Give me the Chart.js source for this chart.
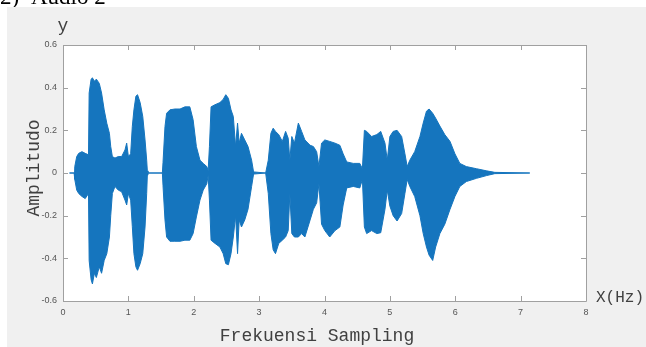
<!DOCTYPE html>
<html>
<head>
<meta charset="utf-8">
<title>Audio 2</title>
<script src="https://cdn.jsdelivr.net/npm/chart.js@4.4.0/dist/chart.umd.min.js"></script>
<style>
    html, body { margin: 0; padding: 0; background: #ffffff; }
    canvas { display: block; }
</style>
</head>
<body>
<canvas id="audioChart" width="646" height="347"></canvas>
<script>
// waktu (detik) titik-titik selubung gelombang
const timeSec = [
    0.10, 0.17, 0.18, 0.21, 0.24, 0.29, 0.34, 0.39,
    0.40, 0.43, 0.45, 0.48, 0.51, 0.555, 0.59, 0.63, 0.67, 0.71, 0.73, 0.755,
    0.795, 0.845, 0.897, 0.948, 0.974, 1.00, 1.035,
    1.06, 1.085, 1.115, 1.14, 1.18, 1.22, 1.255, 1.28, 1.29,
    1.30, 1.52,
    1.53, 1.56, 1.585, 1.636, 1.71, 1.79, 1.865, 1.94, 1.99, 2.04, 2.095, 2.145, 2.20, 2.22,
    2.24, 2.265, 2.325, 2.40, 2.45, 2.49, 2.53, 2.57, 2.605, 2.64, 2.67, 2.695, 2.73, 2.78, 2.83, 2.885, 2.915,
    3.10,
    3.14, 3.18, 3.215, 3.25, 3.30, 3.355, 3.405, 3.445, 3.47, 3.50, 3.54, 3.60, 3.65, 3.70, 3.78,
    3.83, 3.88, 3.915, 3.955, 4.005, 4.08, 4.16, 4.235, 4.285, 4.34, 4.44, 4.54, 4.58,
    4.61, 4.645, 4.72, 4.80, 4.86, 4.925, 4.96,
    5.00, 5.05, 5.11, 5.18, 5.23, 5.265,
    5.305, 5.38, 5.46, 5.51, 5.56, 5.60, 5.655, 5.70, 5.765, 5.84, 5.92, 5.995,
    6.07, 6.17, 6.325, 6.48, 6.605, 7.14
];

// batas atas amplitudo
const upperAmp = [
    0, 0, 0.03, 0.077, 0.092, 0.10, 0.092, 0.085,
    0.375, 0.44, 0.446, 0.43, 0.44, 0.42, 0.375, 0.296, 0.233, 0.186, 0.124, 0.077,
    0.07, 0.077, 0.077, 0.108, 0.14, 0.077, 0.09,
    0.218, 0.296, 0.36, 0.367, 0.33, 0.265, 0.155, 0.06, 0.01,
    0, 0,
    0.05, 0.218, 0.28, 0.296, 0.30, 0.30, 0.31, 0.31, 0.25, 0.124, 0.06, 0.045, 0.03, 0.01,
    0.124, 0.31, 0.32, 0.33, 0.345, 0.367, 0.35, 0.296, 0.265, 0.124, 0.234, 0.14, 0.186, 0.155, 0.124, 0.06, 0.005,
    0,
    0.06, 0.186, 0.21, 0.195, 0.18, 0.148, 0.195, 0.163, 0.06, 0.171, 0.14, 0.234, 0.195, 0.155, 0.13,
    0.124, 0.10, 0.03, 0.14, 0.155, 0.148, 0.14, 0.13, 0.09, 0.052, 0.045, 0.045, 0.02,
    0.20, 0.195, 0.171, 0.18, 0.195, 0.14, 0.06,
    0.171, 0.195, 0.20, 0.171, 0.09, 0.03,
    0.06, 0.10, 0.171, 0.234, 0.29, 0.30, 0.28, 0.257, 0.22, 0.18, 0.148, 0.09,
    0.045, 0.03, 0.02, 0.01, 0.003, 0
];

// batas bawah amplitudo
const lowerAmp = [
    0, 0, -0.03, -0.08, -0.096, -0.11, -0.12, -0.096,
    -0.41, -0.50, -0.52, -0.47, -0.49, -0.44, -0.47, -0.41, -0.378, -0.30, -0.20, -0.096,
    -0.063, -0.08, -0.088, -0.127, -0.15, -0.096, -0.127,
    -0.25, -0.378, -0.44, -0.456, -0.425, -0.378, -0.253, -0.096, -0.01,
    0, 0,
    -0.06, -0.22, -0.30, -0.32, -0.32, -0.32, -0.315, -0.315, -0.284, -0.206, -0.127, -0.08, -0.05, -0.01,
    -0.127, -0.315, -0.33, -0.347, -0.378, -0.425, -0.43, -0.378, -0.30, -0.20, -0.378, -0.22, -0.253, -0.22, -0.17, -0.063, -0.005,
    0,
    -0.096, -0.284, -0.36, -0.378, -0.33, -0.315, -0.30, -0.27, -0.096, -0.284, -0.30, -0.30, -0.284, -0.30, -0.22,
    -0.17, -0.14, -0.05, -0.24, -0.27, -0.30, -0.27, -0.253, -0.15, -0.07, -0.063, -0.07, -0.03,
    -0.253, -0.284, -0.27, -0.284, -0.28, -0.17, -0.08,
    -0.155, -0.20, -0.225, -0.19, -0.096, -0.03,
    -0.063, -0.11, -0.20, -0.284, -0.347, -0.385, -0.41, -0.347, -0.284, -0.24, -0.17, -0.11,
    -0.063, -0.04, -0.025, -0.012, -0.003, 0
];

const xTicks = [0, 1, 2, 3, 4, 5, 6, 7, 8];
const yTicks = [-0.6, -0.4, -0.2, 0, 0.2, 0.4, 0.6];

const waveColor = '#1575be';
const frameColor = '#a0a0a0';
const monoFont = '"Liberation Mono", "DejaVu Sans Mono", monospace';

// latar belakang figure ala MATLAB
const figureBackground = {
    id: 'figureBackground',
    beforeDraw(chart) {
        const ctx = chart.ctx;
        const area = chart.chartArea;
        ctx.save();
        ctx.fillStyle = '#ffffff';
        ctx.fillRect(0, 0, chart.width, chart.height);
        ctx.fillStyle = '#000000';
        ctx.font = '23px "Liberation Serif", serif';
        ctx.textBaseline = 'alphabetic';
        ctx.fillText('2)', 0, 4);
        ctx.fillText('Audio 2', 31, 4);
        ctx.fillStyle = '#f0f0f0';
        ctx.fillRect(7, 7, chart.width - 7, chart.height - 7);
        ctx.fillStyle = '#ffffff';
        ctx.fillRect(area.left, area.top, area.right - area.left, area.bottom - area.top);
        ctx.restore();
    }
};

// kotak sumbu, tick ke dalam dan label teks
const matlabFrame = {
    id: 'matlabFrame',
    afterDraw(chart) {
        const ctx = chart.ctx;
        const area = chart.chartArea;
        const xs = chart.scales.x;
        const ys = chart.scales.y;
        const tickLen = 5;
        ctx.save();
        ctx.strokeStyle = frameColor;
        ctx.lineWidth = 1;
        ctx.beginPath();
        ctx.rect(Math.round(area.left) + 0.5, Math.round(area.top) + 0.5,
            Math.round(area.right - area.left), Math.round(area.bottom - area.top));
        xTicks.forEach(v => {
            const px = Math.round(xs.getPixelForValue(v)) + 0.5;
            ctx.moveTo(px, area.bottom);
            ctx.lineTo(px, area.bottom - tickLen);
            ctx.moveTo(px, area.top);
            ctx.lineTo(px, area.top + tickLen);
        });
        yTicks.forEach(v => {
            const py = Math.round(ys.getPixelForValue(v)) + 0.5;
            ctx.moveTo(area.left, py);
            ctx.lineTo(area.left + tickLen, py);
            ctx.moveTo(area.right, py);
            ctx.lineTo(area.right - tickLen, py);
        });
        ctx.stroke();

        ctx.fillStyle = '#404040';
        ctx.font = '18px ' + monoFont;
        ctx.textAlign = 'center';
        ctx.textBaseline = 'alphabetic';
        ctx.fillText('y', area.left, 31);
        ctx.fillText('Frekuensi Sampling', 317, 341);

        ctx.save();
        ctx.translate(34, (area.top + area.bottom) / 2 - 5);
        ctx.rotate(-Math.PI / 2);
        ctx.textBaseline = 'middle';
        ctx.fillText('Amplitudo', 0, 0);
        ctx.restore();

        ctx.font = '16px ' + monoFont;
        ctx.textAlign = 'left';
        ctx.textBaseline = 'middle';
        ctx.fillText('X(Hz)', 596, 298);
        ctx.restore();
    }
};

function buildPoints(values) {
    return timeSec.map((t, i) => ({ x: t, y: values[i] }));
}

function drawAudioChart() {
    const ctx = document.getElementById('audioChart').getContext('2d');
    new Chart(ctx, {
        type: 'line',
        data: {
            datasets: [
                {
                    label: 'atas',
                    data: buildPoints(upperAmp),
                    borderColor: waveColor,
                    borderWidth: 1,
                    pointRadius: 0,
                    tension: 0,
                    fill: false
                },
                {
                    label: 'bawah',
                    data: buildPoints(lowerAmp),
                    borderColor: waveColor,
                    backgroundColor: waveColor,
                    borderWidth: 1,
                    pointRadius: 0,
                    tension: 0,
                    fill: '-1'
                }
            ]
        },
        options: {
            responsive: false,
            animation: false,
            events: [],
            layout: { padding: { left: 0, top: 45, right: 60, bottom: 0 } },
            plugins: {
                legend: { display: false },
                tooltip: { enabled: false }
            },
            scales: {
                x: {
                    type: 'linear',
                    min: 0,
                    max: 8,
                    grid: { display: false, drawTicks: false },
                    border: { display: false },
                    ticks: {
                        stepSize: 1,
                        padding: 6,
                        color: '#555555',
                        font: { family: '"Liberation Sans", Arial', size: 9 }
                    },
                    afterFit: s => { s.height = 46; }
                },
                y: {
                    type: 'linear',
                    min: -0.6,
                    max: 0.6,
                    grid: { display: false, drawTicks: false },
                    border: { display: false },
                    ticks: {
                        stepSize: 0.2,
                        padding: 6,
                        color: '#555555',
                        font: { family: '"Liberation Sans", Arial', size: 9 },
                        callback: v => {
                            const r = Math.round(v * 10) / 10;
                            return r === 0 ? '0' : String(r);
                        }
                    },
                    afterFit: s => { s.width = 63; }
                }
            }
        },
        plugins: [figureBackground, matlabFrame]
    });
}

document.addEventListener('DOMContentLoaded', drawAudioChart);
</script>
</body>
</html>
